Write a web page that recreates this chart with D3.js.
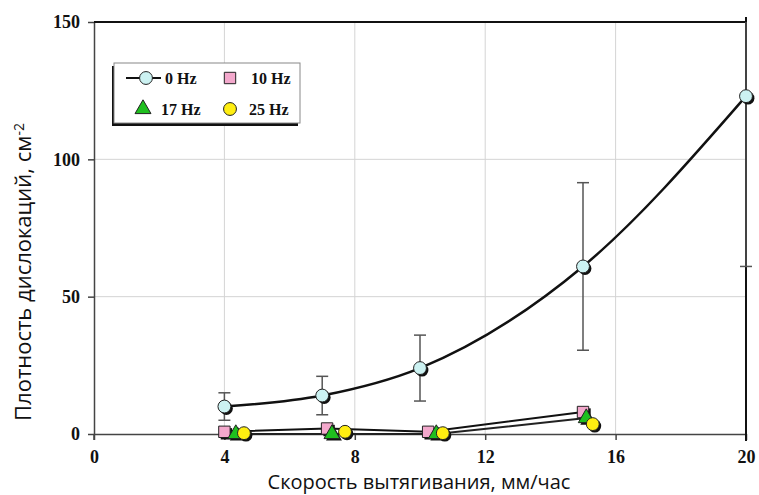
<!DOCTYPE html>
<html><head><meta charset="utf-8">
<script src="https://cdn.jsdelivr.net/npm/d3@7"></script>
<style>body{margin:0;background:#fff}svg{display:block}</style>
</head><body>
<svg id="c" width="759" height="495"></svg>
<script>
// ---- data ----
const xTicks = [0, 4, 8, 12, 16, 20];
const yTicks = [0, 50, 100, 150];
const seriesNames = ["0 Hz", "10 Hz", "17 Hz", "25 Hz"];
const x0 = [4, 7, 10, 15, 20];
const y0 = [10, 14, 24, 61, 123];
const err0 = [5, 7, 12, 30.5, 62];
const x10 = [4, 7.15, 10.25, 15];
const y10 = [0.8, 2, 0.8, 8];
const x17 = [4.35, 7.3, 10.5, 15.1];
const y17 = [0, 0, 0, 5.8];
const x25 = [4.6, 7.7, 10.7, 15.3];
const y25 = [0.3, 0.8, 0.3, 3.6];
const xTitle = "Скорость вытягивания, мм/час";
const yTitle = "Плотность дислокаций, см";

const svg = d3.select("#c");
const L = 94, R = 746, T = 22, B = 434;
const x = d3.scaleLinear().domain([0, 20]).range([L, R]);
const y = d3.scaleLinear().domain([0, 150]).range([B, T]);

// grid
const g = svg.append("g");
g.selectAll(".gx").data(xTicks.filter(d => d > 0 && d < 20)).enter().append("line")
  .attr("x1", d => x(d)).attr("x2", d => x(d)).attr("y1", T).attr("y2", B)
  .attr("stroke", "#d4d4d4").attr("stroke-width", 1);
g.selectAll(".gy").data(yTicks.filter(d => d > 0 && d < 150)).enter().append("line")
  .attr("x1", L).attr("x2", R).attr("y1", d => y(d)).attr("y2", d => y(d))
  .attr("stroke", "#d4d4d4").attr("stroke-width", 1);

// axes
const fontTick = "'Liberation Serif', 'Times New Roman', serif";
const ax = svg.append("g").attr("transform", `translate(0,${B})`)
  .call(d3.axisBottom(x).tickValues(xTicks).tickSize(6).tickPadding(10).tickSizeOuter(0));
const ay = svg.append("g").attr("transform", `translate(${L},0)`)
  .call(d3.axisLeft(y).tickValues(yTicks).tickSize(6).tickPadding(8).tickSizeOuter(0));
[ax, ay].forEach(a => {
  a.select(".domain").attr("stroke", "#444").attr("stroke-width", 1.5);
  a.selectAll(".tick line").attr("stroke", "#444").attr("stroke-width", 1.5);
  a.selectAll(".tick text").attr("fill", "#111").style("font-family", fontTick)
    .style("font-weight", "bold").style("font-size", "18px");
});
// extend y axis slightly below x axis
svg.append("line").attr("x1", L).attr("x2", L).attr("y1", B).attr("y2", B + 6)
  .attr("stroke", "#444").attr("stroke-width", 1.5);
// frame top & right
svg.append("line").attr("x1", L).attr("x2", R).attr("y1", T).attr("y2", T)
  .attr("stroke", "#111").attr("stroke-width", 2);
svg.append("line").attr("x1", R).attr("x2", R).attr("y1", T - 5).attr("y2", B + 7)
  .attr("stroke", "#111").attr("stroke-width", 2);

// error bars 0 Hz
const d0 = x0.map((v, i) => ({x: v, y: y0[i], e: err0[i]}));
const ebAll = svg.append("g");
d0.forEach(d => {
  const top = Math.min(150, d.y + d.e), bot = d.y - d.e;
  ebAll.append("line").attr("x1", x(d.x)).attr("x2", x(d.x)).attr("y1", y(top)).attr("y2", y(bot))
    .attr("stroke", "#555").attr("stroke-width", 1.5);
  [d.y + d.e, bot].forEach(v => {
    if (v <= 150) ebAll.append("line").attr("x1", x(d.x) - 6).attr("x2", x(d.x) + 6)
      .attr("y1", y(v)).attr("y2", y(v)).attr("stroke", "#555").attr("stroke-width", 1.5);
  });
});

// lines
const line = d3.line().x(d => x(d.x)).y(d => y(d.y)).curve(d3.curveMonotoneX);
svg.append("path").attr("d", line(d0))
  .attr("fill", "none").attr("stroke", "#111").attr("stroke-width", 2.5);
const d10 = x10.map((v, i) => ({x: v, y: y10[i]}));
const d17 = x17.map((v, i) => ({x: v, y: y17[i]}));
const d25 = x25.map((v, i) => ({x: v, y: y25[i]}));
const lin = d3.line().x(d => x(d.x)).y(d => y(d.y)).curve(d3.curveLinear);
svg.append("path").attr("d", lin(d17)).attr("fill", "none").attr("stroke", "#222").attr("stroke-width", 2);
svg.append("path").attr("d", lin(d10)).attr("fill", "none").attr("stroke", "#111").attr("stroke-width", 2);

// markers
const sym = {
  "0 Hz": {type: d3.symbolCircle, size: 130, fill: "#ccf2f2"},
  "10 Hz": {type: d3.symbolSquare, size: 130, fill: "#f3a8cc"},
  "17 Hz": {type: d3.symbolTriangle, size: 110, fill: "#1fbf1f"},
  "25 Hz": {type: d3.symbolCircle, size: 130, fill: "#ffee11"}
};
function marker(parent, name, cx, cy, shadow) {
  const s = sym[name];
  const p = d3.symbol().type(s.type).size(s.size)();
  if (shadow) parent.append("path").attr("d", p).attr("transform", `translate(${cx + 2},${cy + 2})`)
    .attr("fill", "#111");
  parent.append("path").attr("d", p).attr("transform", `translate(${cx},${cy})`)
    .attr("fill", s.fill).attr("stroke", "#222").attr("stroke-width", 1);
}
const mk = svg.append("g");
[["10 Hz", d10], ["17 Hz", d17], ["25 Hz", d25], ["0 Hz", d0]].forEach(([n, arr]) => {
  arr.forEach(d => marker(mk, n, x(d.x), y(d.y), true));
});

// legend
const lg = svg.append("g");
const lx = 114, ly = 63, lw = 186, lh = 60;
lg.append("rect").attr("x", lx - 2).attr("y", ly + 3).attr("width", lw).attr("height", lh).attr("fill", "#111");
lg.append("rect").attr("x", lx).attr("y", ly).attr("width", lw).attr("height", lh)
  .attr("fill", "#fff").attr("stroke", "#888").attr("stroke-width", 1);
const rows = [
  {n: "0 Hz", mx: 146, tx: 165, y: 78},
  {n: "10 Hz", mx: 230, tx: 251, y: 78},
  {n: "17 Hz", mx: 143, tx: 161, y: 109},
  {n: "25 Hz", mx: 230, tx: 249, y: 109}
];
lg.append("line").attr("x1", 126).attr("x2", 161).attr("y1", 78).attr("y2", 78)
  .attr("stroke", "#111").attr("stroke-width", 2);
rows.forEach(r => {
  marker(lg, r.n, r.mx, r.y, false);
  lg.append("text").attr("x", r.tx).attr("y", r.y).attr("dy", "0.35em")
    .style("font-family", fontTick).style("font-weight", "bold").style("font-size", "16px")
    .attr("fill", "#111").text(r.n);
});

// titles
const fontTitle = "'Open Sans', 'Noto Sans', sans-serif";
svg.append("text").attr("x", 419).attr("y", 489).attr("text-anchor", "middle")
  .style("font-family", fontTitle).style("font-size", "20px").attr("fill", "#111").text(xTitle);
const yt = svg.append("text").attr("transform", "translate(31,272) rotate(-90)").attr("text-anchor", "middle")
  .style("font-family", fontTitle).style("font-size", "22px").attr("fill", "#111");
yt.append("tspan").text(yTitle);
yt.append("tspan").attr("dy", "-0.5em").style("font-size", "14px").text("-2");
</script>
</body></html>
